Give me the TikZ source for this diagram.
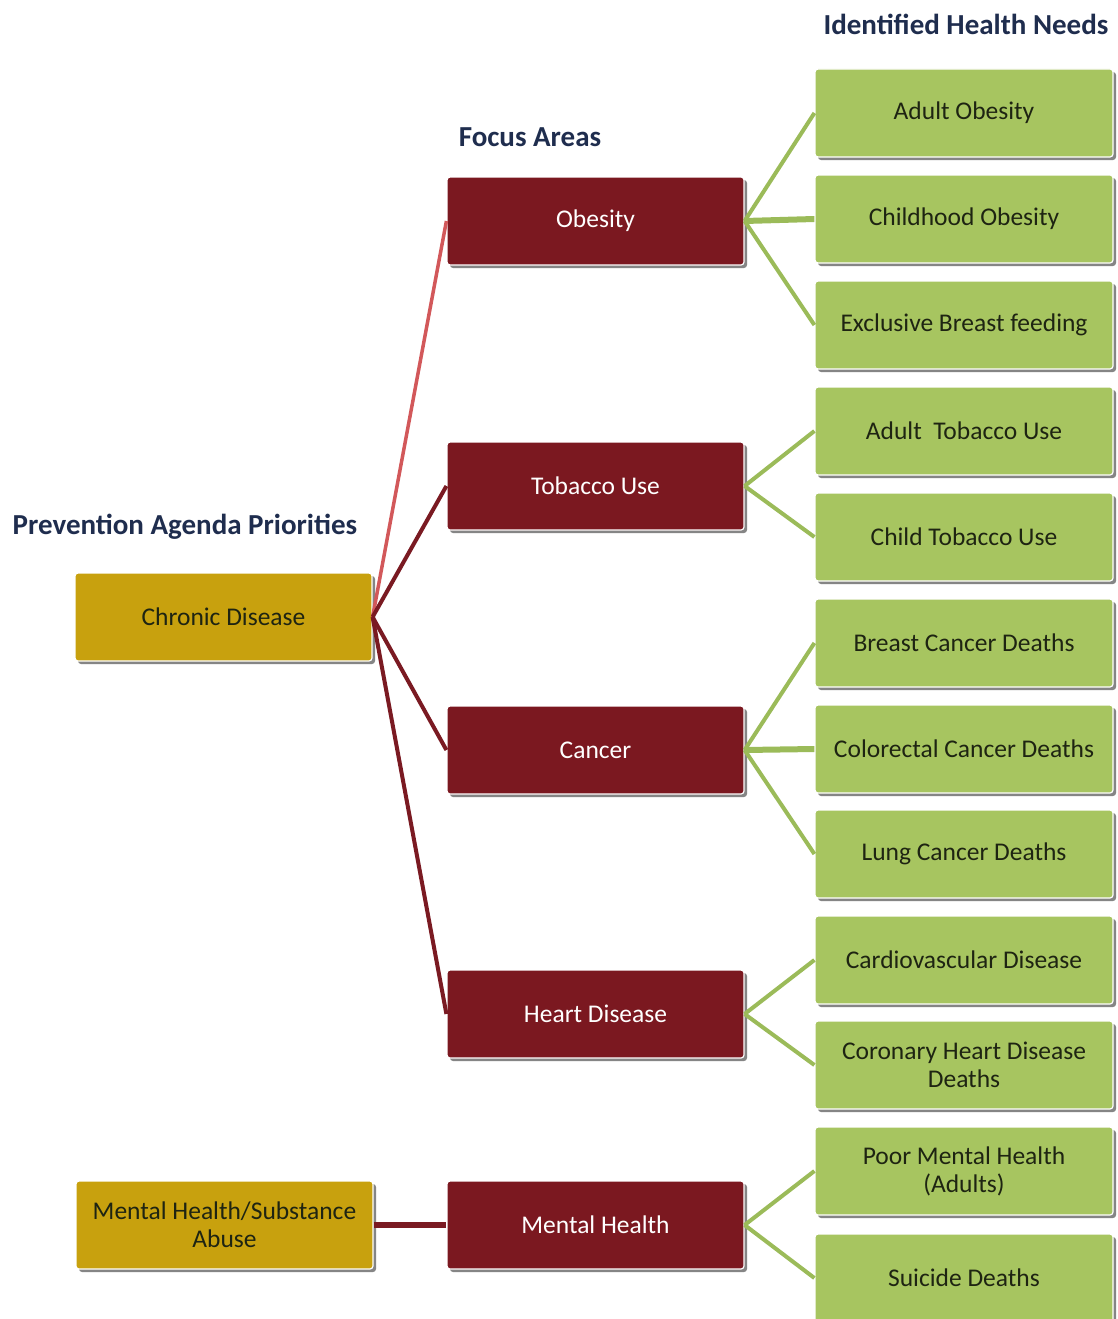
\documentclass[tikz,border=0pt]{standalone}
\usepackage{fontspec}
\setmainfont{Carlito}
\usetikzlibrary{shadows}
\definecolor{gfill}{HTML}{A7C560}
\definecolor{rfill}{HTML}{7B1820}
\definecolor{yfill}{HTML}{C8A10E}
\definecolor{gline}{HTML}{9BBB59}
\definecolor{rline}{HTML}{7A1A22}
\definecolor{pline}{HTML}{D2585A}
\definecolor{head}{HTML}{1F2D4E}
\definecolor{boxtext}{HTML}{1E2412}
\begin{document}
\begin{tikzpicture}[x=1pt,y=-1pt,
  box/.style={rounded corners=3pt, minimum height=88pt, inner sep=0pt, align=center,
    font=\fontsize{25.5}{28}\selectfont, draw=white, line width=1.2pt,
    drop shadow={shadow xshift=3pt, shadow yshift=-3pt, fill=black!60, opacity=0.8}},
  need/.style={box, fill=gfill, minimum width=298pt, text=boxtext},
  focus/.style={box, fill=rfill, minimum width=297pt, text=white},
  prio/.style={box, fill=yfill, minimum width=297pt, text=boxtext},
  title/.style={font=\bfseries\fontsize{29}{32}\selectfont, text=head},
  glink/.style={draw=gline, line width=4pt},
  rlink/.style={draw=rline, line width=4pt},
  plink/.style={draw=pline, line width=3.5pt}
]
\useasboundingbox (0,0) rectangle (1117,1319);

% headings
\node[title] (t1) at (966,24) {Identified Health Needs};
\node[title] (t2) at (530,137) {Focus Areas};
\node[title] (t3) at (185,527) {Prevention Agenda Priorities};

% priorities
\node[prio] (chronic) at (223.5,617) {Chronic Disease};
\node[prio] (mhsa) at (224.5,1225) {Mental Health/Substance\\Abuse};

% focus areas
\node[focus] (obesity) at (595.5,221) {Obesity};
\node[focus] (tobacco) at (595.5,486) {Tobacco Use};
\node[focus] (cancer) at (595.5,750) {Cancer};
\node[focus] (heart) at (595.5,1014) {Heart Disease};
\node[focus] (mental) at (595.5,1225) {Mental Health};

% needs
\node[need] (n1) at (964,113) {Adult Obesity};
\node[need] (n2) at (964,219) {Childhood Obesity};
\node[need] (n3) at (964,325) {Exclusive Breast feeding};
\node[need] (n4) at (964,431) {Adult\ \ Tobacco Use};
\node[need] (n5) at (964,537) {Child Tobacco Use};
\node[need] (n6) at (964,643) {Breast Cancer Deaths};
\node[need] (n7) at (964,749) {Colorectal Cancer Deaths};
\node[need] (n8) at (964,854) {Lung Cancer Deaths};
\node[need] (n9) at (964,960) {Cardiovascular Disease};
\node[need] (n10) at (964,1065) {Coronary Heart Disease\\Deaths};
\node[need] (n11) at (964,1171) {Poor Mental Health\\(Adults)};
\node[need] (n12) at (964,1278) {Suicide Deaths};

% connectors priorities -> focus
\draw[plink] (chronic.east) -- (obesity.west);
\draw[rlink] (chronic.east) -- (tobacco.west);
\draw[rlink] (chronic.east) -- (cancer.west);
\draw[rlink] (chronic.east) -- (heart.west);
\draw[rlink, line width=6pt] (mhsa.east) -- (mental.west);

% connectors focus -> needs
\draw[glink] (obesity.east) -- (n1.west);
\draw[glink, line width=6pt] (obesity.east) -- (n2.west);
\draw[glink] (obesity.east) -- (n3.west);
\draw[glink] (tobacco.east) -- (n4.west);
\draw[glink] (tobacco.east) -- (n5.west);
\draw[glink] (cancer.east) -- (n6.west);
\draw[glink, line width=6pt] (cancer.east) -- (n7.west);
\draw[glink] (cancer.east) -- (n8.west);
\draw[glink] (heart.east) -- (n9.west);
\draw[glink] (heart.east) -- (n10.west);
\draw[glink] (mental.east) -- (n11.west);
\draw[glink] (mental.east) -- (n12.west);
\end{tikzpicture}
\end{document}
